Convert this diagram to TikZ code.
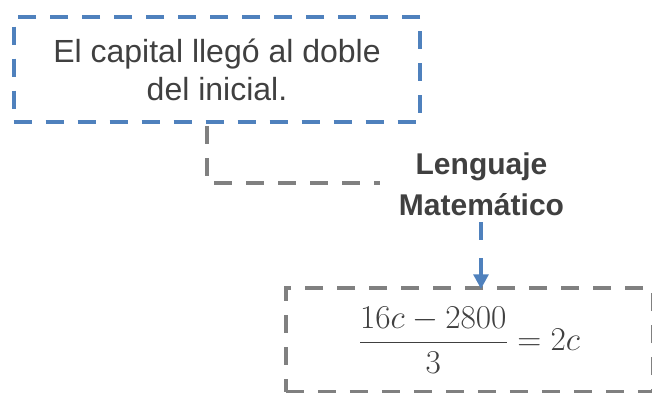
\documentclass[tikz,border=0pt]{standalone}
\usepackage{fix-cm}
\usepackage{amsmath}
\usepackage{fontspec}
\setmainfont{Liberation Sans}
\usetikzlibrary{arrows.meta}
\definecolor{txt}{HTML}{404040}
\definecolor{blu}{HTML}{4F81BD}
\definecolor{gry}{HTML}{808080}
\begin{document}
\begin{tikzpicture}[x=0.75pt,y=-0.75pt,
  bluebox/.style={draw=blu,line width=3pt,dash pattern=on 13.5pt off 10.5pt,
    minimum width=305pt,minimum height=78.75pt,align=center,inner sep=0pt,
    text=txt,font=\fontsize{24}{28.5}\selectfont},
  graybox/.style={draw=gry,line width=3pt,dash pattern=on 13.5pt off 10.5pt,
    minimum width=275pt,minimum height=78pt,inner sep=0pt,text=txt,
    font=\fontsize{25}{30}\selectfont},
  lbl/.style={align=center,text=txt,inner sep=0pt,
    font=\fontsize{22.5}{30.75}\selectfont\bfseries},
  elbow/.style={draw=gry,line width=3.2pt,dash pattern=on 13.5pt off 10.5pt},
  arr/.style={draw=blu,line width=3pt,dash pattern=on 13.5pt off 13.5pt,
    -{Triangle[length=11pt,width=11pt]}}]
\useasboundingbox (0,0) rectangle (652,392);
\node[bluebox] (title) at (217,69.5) {El capital llegó al doble\\del inicial.};
\node[lbl] (lang) at (481.5,184) {Lenguaje\\Matemático};
\node[graybox] (eq) at (469.2,340.4) {$\displaystyle\frac{16c-2800}{3}=2c$};
\coordinate (e1) at (207,126);
\coordinate (e2) at (380,183);
\draw[elbow] (e1) |- (e2);
\coordinate (a1) at (481,222);
\coordinate (a2) at (481,289);
\draw[arr] (a1) -- (a2);
\end{tikzpicture}
\end{document}
